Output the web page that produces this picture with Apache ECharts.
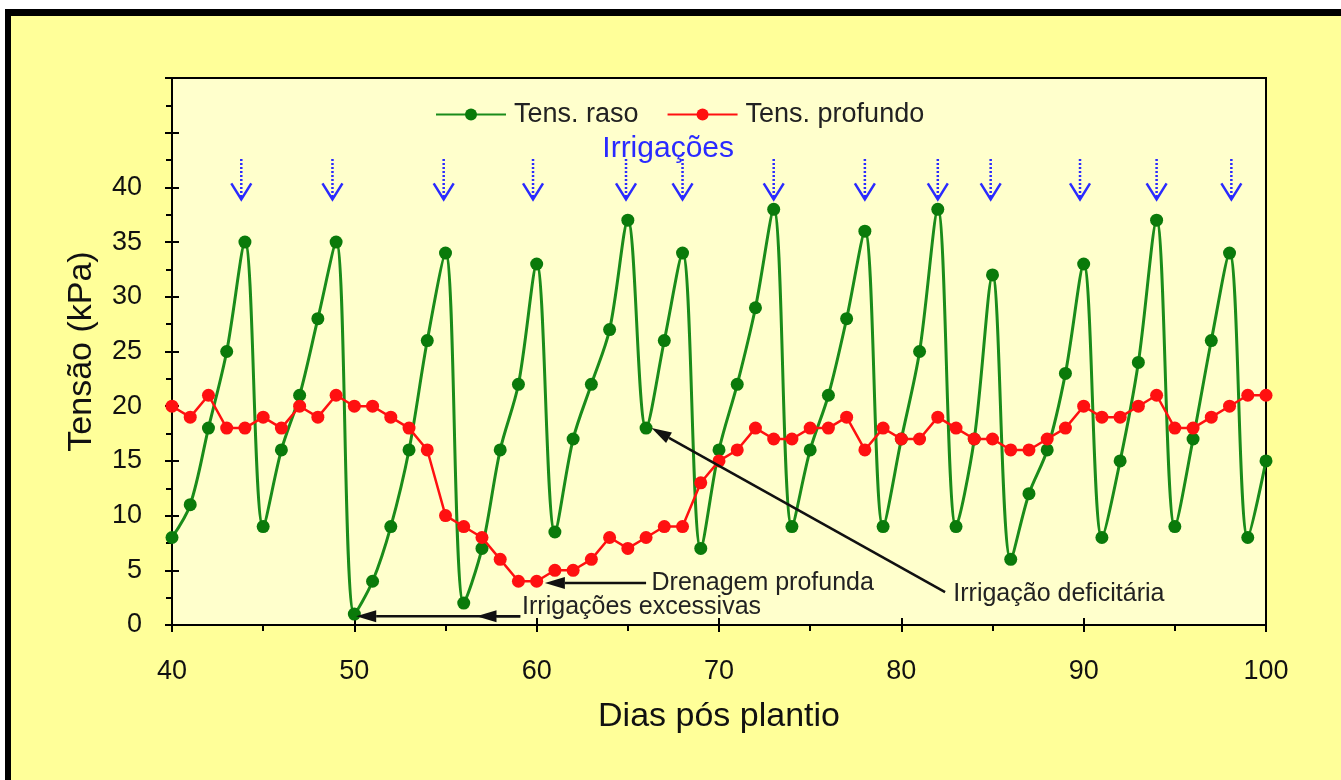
<!DOCTYPE html>
<html>
<head>
<meta charset="utf-8">
<title>Tensão x Dias pós plantio</title>
<script src="https://cdn.jsdelivr.net/npm/echarts@6/dist/echarts.min.js"></script>
<style>
    html, body {
        margin: 0;
        padding: 0;
        background: #fff;
        overflow: hidden;
    }
    .frame {
        position: absolute;
        left: 5px;
        top: 9px;
        width: 1400px;
        height: 780px;
        background: #FFFF99;
        border-left: 6px solid #000;
        border-top: 7px solid #000;
    }
    #chart {
        position: absolute;
        left: 0;
        top: 0;
        width: 1341px;
        height: 780px;
    }
</style>
</head>
<body>
<div class="frame"></div>
<div id="chart"></div>
<script>
// dias pos plantio
const dias = [];
for (let d = 40; d <= 100; d++) dias.push(d);

// tensiometro raso (kPa)
const tensRaso = [
    8, 11, 18, 25, 35, 9, 16, 21, 28, 35,
    1, 4, 9, 16, 26, 34, 2, 7, 16, 22,
    33, 8.5, 17, 22, 27, 37, 18, 26, 34, 7,
    16, 22, 29, 38, 9, 16, 21, 28, 36, 9,
    17, 25, 38, 9, 17, 32, 6, 12, 16, 23,
    33, 8, 15, 24, 37, 9, 17, 26, 34, 8,
    15
];

// tensiometro profundo (kPa)
const tensProfundo = [
    20, 19, 21, 18, 18, 19, 18, 20, 19, 21,
    20, 20, 19, 18, 16, 10, 9, 8, 6, 4,
    4, 5, 5, 6, 8, 7, 8, 9, 9, 13,
    15, 16, 18, 17, 17, 18, 18, 19, 16, 18,
    17, 17, 19, 18, 17, 17, 16, 16, 17, 18,
    20, 19, 19, 20, 21, 18, 18, 19, 20, 21,
    21
];

// dias das irrigacoes (setas azuis)
const diasIrrigacao = [43.8, 48.8, 54.9, 59.8, 64.9, 68, 73, 78, 82, 84.9, 89.8, 94, 98.1];

// anotacoes
const notasTexto = ['Drenagem profunda', 'Irrigações excessivas', 'Irrigação deficitária'];
const notasPos = [[66.3, 3.84], [59.2, 1.6], [82.85, 2.84]];
// setas das anotacoes: [x inicio, y inicio, x ponta, y ponta]
const notasSetas = [
    [66.0, 3.84, 60.45, 3.84],
    [59.1, 0.8, 50.1, 0.8],
    [59.1, 0.8, 56.7, 0.8],
    [82.4, 3.0, 66.3, 18.0]
];

const yTicks = [0, 5, 10, 15, 20, 25, 30, 35, 40];

const SETA_TOPO = 42.6;
const SETA_PONTA = 38.9;
const FONT = "'Liberation Sans', Arial, sans-serif";
const AZUL = '#2a2aff';

const chart = echarts.init(document.getElementById('chart'));

const rasoData = dias.map((d, i) => [d, tensRaso[i]]);
const profData = dias.map((d, i) => [d, tensProfundo[i]]);

chart.setOption({
    animation: false,
    backgroundColor: 'transparent',
    textStyle: { fontFamily: FONT },
    grid: {
        left: 172,
        right: 75,
        top: 78,
        bottom: 155,
        show: true,
        backgroundColor: '#FFFFCC',
        borderColor: '#000',
        borderWidth: 2
    },
    legend: {
        data: ['Tens. raso', 'Tens. profundo'],
        left: 430,
        top: 96,
        itemWidth: 70,
        itemHeight: 15,
        itemGap: 28,
        textStyle: { fontSize: 27, color: '#222', fontFamily: FONT, padding: [0, 0, 0, 3] }
    },
    xAxis: [{
        type: 'value',
        min: 40,
        max: 100,
        interval: 10,
        position: 'bottom',
        name: 'Dias pós plantio',
        nameLocation: 'middle',
        nameGap: 75,
        nameTextStyle: { fontSize: 34, color: '#111', fontFamily: FONT },
        axisLine: { lineStyle: { color: '#000', width: 2 } },
        axisTick: { length: 7, lineStyle: { color: '#000', width: 2 } },
        minorTick: { show: true, splitNumber: 2, length: 6, lineStyle: { color: '#000', width: 2 } },
        axisLabel: { fontSize: 27, color: '#111', margin: 33, fontFamily: FONT },
        splitLine: { show: false }
    }, {
        type: 'value',
        min: 40,
        max: 100,
        interval: 10,
        position: 'bottom',
        axisLine: { show: false },
        axisTick: { inside: true, length: 7, lineStyle: { color: '#000', width: 2 } },
        axisLabel: { show: false },
        splitLine: { show: false }
    }],
    yAxis: [{
        type: 'value',
        min: 0,
        max: 50,
        interval: 5,
        name: 'Tensão (kPa)',
        nameLocation: 'middle',
        nameGap: 73,
        nameTextStyle: { fontSize: 34, color: '#111', fontFamily: FONT },
        axisLine: { show: true, lineStyle: { color: '#000', width: 2 } },
        axisTick: { show: true, length: 7, lineStyle: { color: '#000', width: 2 } },
        minorTick: { show: true, splitNumber: 2, length: 6, lineStyle: { color: '#000', width: 2 } },
        axisLabel: {
            fontSize: 27,
            color: '#111',
            margin: 30,
            fontFamily: FONT,
            formatter: v => (yTicks.indexOf(v) >= 0 ? String(v) : '')
        },
        splitLine: { show: false }
    }, {
        type: 'value',
        min: 0,
        max: 50,
        interval: 5,
        position: 'left',
        axisLine: { show: false },
        axisTick: { show: true, inside: true, length: 7, lineStyle: { color: '#000', width: 2 } },
        axisLabel: { show: false },
        splitLine: { show: false }
    }],
    series: [{
        name: 'Tens. raso',
        type: 'line',
        data: rasoData,
        smooth: 0.33,
        symbol: 'circle',
        symbolSize: 13,
        color: '#0a7d0a',
        lineStyle: { color: '#1a8c1a', width: 3 },
        itemStyle: { color: '#0a7a0a' },
        z: 3
    }, {
        name: 'Tens. profundo',
        type: 'line',
        data: profData,
        symbol: 'circle',
        symbolSize: 13,
        color: '#ff0000',
        lineStyle: { color: '#ff1010', width: 2.5 },
        itemStyle: { color: '#ff1010' },
        z: 4
    }, {
        // setas das irrigacoes
        name: 'irrigacoes',
        type: 'custom',
        data: diasIrrigacao.map(d => [d]),
        silent: true,
        z: 5,
        renderItem: function (params, api) {
            const top = api.coord([api.value(0), SETA_TOPO]);
            const tip = api.coord([api.value(0), SETA_PONTA]);
            return {
                type: 'group',
                children: [{
                    type: 'line',
                    shape: { x1: tip[0], y1: top[1], x2: tip[0], y2: tip[1] - 2 },
                    style: { stroke: AZUL, lineWidth: 2.5, lineDash: [2, 2] }
                }, {
                    type: 'polyline',
                    shape: { points: [[tip[0] - 10, tip[1] - 16], [tip[0], tip[1]], [tip[0] + 10, tip[1] - 16]] },
                    style: { stroke: AZUL, lineWidth: 2.5, fill: null }
                }]
            };
        }
    }, {
        // titulo "Irrigações"
        name: 'irrigacoesTitulo',
        type: 'custom',
        data: [[63.6, 43.5]],
        silent: true,
        z: 5,
        renderItem: function (params, api) {
            const p = api.coord([api.value(0), api.value(1)]);
            return {
                type: 'text',
                x: p[0],
                y: p[1],
                style: {
                    text: 'Irrigações',
                    fill: AZUL,
                    font: '30px ' + FONT,
                    textAlign: 'left',
                    textVerticalAlign: 'middle'
                }
            };
        }
    }, {
        // setas das anotacoes
        name: 'setas',
        type: 'custom',
        data: notasSetas,
        silent: true,
        z: 6,
        renderItem: function (params, api) {
            const a = api.coord([api.value(0), api.value(1)]);
            const b = api.coord([api.value(2), api.value(3)]);
            const ang = Math.atan2(b[1] - a[1], b[0] - a[0]);
            const L = 20, W = 6;
            const bx = b[0] - L * Math.cos(ang), by = b[1] - L * Math.sin(ang);
            const nx = -Math.sin(ang) * W, ny = Math.cos(ang) * W;
            return {
                type: 'group',
                children: [{
                    type: 'line',
                    shape: { x1: a[0], y1: a[1], x2: bx, y2: by },
                    style: { stroke: '#111', lineWidth: 2.5 }
                }, {
                    type: 'polygon',
                    shape: { points: [[b[0], b[1]], [bx + nx, by + ny], [bx - nx, by - ny]] },
                    style: { fill: '#111' }
                }]
            };
        }
    }, {
        // textos das anotacoes
        name: 'notas',
        type: 'custom',
        data: notasPos.map((p, i) => [p[0], p[1], i]),
        silent: true,
        z: 6,
        renderItem: function (params, api) {
            const p = api.coord([api.value(0), api.value(1)]);
            return {
                type: 'text',
                x: p[0],
                y: p[1],
                style: {
                    text: notasTexto[api.value(2)],
                    fill: '#222',
                    font: '25px ' + FONT,
                    textAlign: 'left',
                    textVerticalAlign: 'middle'
                }
            };
        }
    }]
});
</script>
</body>
</html>
